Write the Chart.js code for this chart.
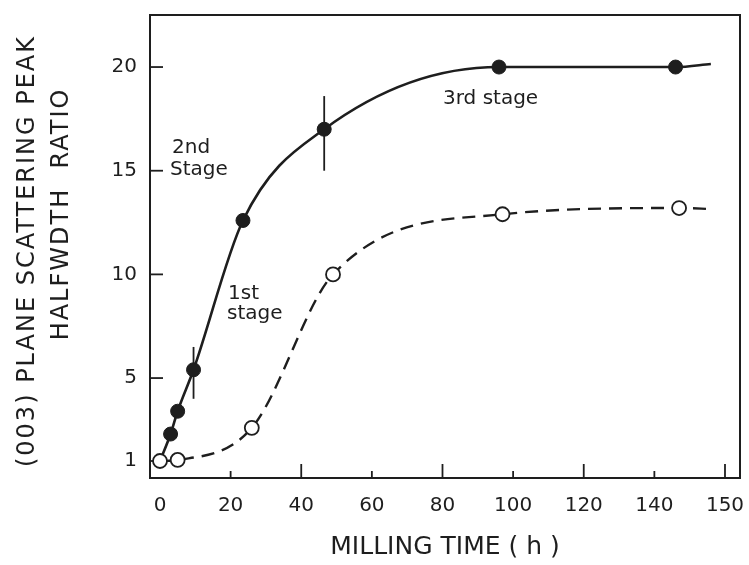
<!DOCTYPE html>
<html>
<head>
<meta charset="utf-8">
<title>(003) plane scattering peak halfwidth ratio vs milling time</title>
<script src="https://cdn.jsdelivr.net/npm/chart.js@4.4.1/dist/chart.umd.min.js"></script>
<style>
  html, body { margin: 0; padding: 0; background: #fff; }
  #wrap { width: 749px; height: 565px; }
</style>
</head>
<body>
<div id="wrap"><canvas id="chart" width="749" height="565"></canvas></div>
<script>
// values: milling time (h) / halfwidth ratio
var hoursFilled = [0, 3, 5, 9.5, 23.5, 46.5, 96, 146, 156];
var ratioFilled = [1, 2.3, 3.4, 5.4, 12.6, 17.0, 20.0, 20.0, 20.15];
var hoursOpen = [0, 5, 26, 49, 97, 147, 156.5];
var ratioOpen = [1, 1.05, 2.6, 10.0, 12.9, 13.2, 13.15];

// vertical bars on the filled series (null = no bar)
var errLow  = [null, null, null, 4.0, null, 15.0, null, null, null];
var errHigh = [null, null, null, 6.5, null, 18.6, null, null, null];

var xTicks = [0, 20, 40, 60, 80, 100, 120, 140, 160];
var xTickLabels = ['0', '20', '40', '60', '80', '100', '120', '140', '150'];
var yTicks = [1, 5, 10, 15, 20];

var xTitle = 'MILLING TIME ( h )';
var yTitle = ['(003) PLANE SCATTERING PEAK', 'HALFWDTH  RATIO'];
var stageText = ['2nd', 'Stage', '1st', 'stage', '3rd stage'];

var INK = '#1e1e1e';
var FONT = '"DejaVu Sans", sans-serif';

function toXY(xs, ys) {
  return xs.map(function (x, i) { return { x: x, y: ys[i] }; });
}

// no marker on the tail end of each curve
function radii(arr, r) {
  return arr.map(function (v, i) { return (i === arr.length - 1) ? 0 : r; });
}
var filledRadius = radii(ratioFilled, 7);
filledRadius[0] = 0;

var figurePlugin = {
  id: 'figure',
  beforeDatasetsDraw: function (chart) {
    var ctx = chart.ctx, a = chart.chartArea;
    var xs = chart.scales.x, ys = chart.scales.y;
    ctx.save();
    ctx.strokeStyle = INK;
    ctx.lineWidth = 2;
    ctx.strokeRect(a.left, a.top, a.right - a.left, a.bottom - a.top);

    // inward tick marks
    ctx.lineWidth = 1.8;
    yTicks.forEach(function (v) {
      var py = ys.getPixelForValue(v);
      ctx.beginPath();
      ctx.moveTo(a.left, py);
      ctx.lineTo(a.left + 13, py);
      ctx.stroke();
    });
    xTicks.forEach(function (v, i) {
      if (v === 0) return;
      var px = xs.getPixelForValue(v);
      var len = (i % 2 === 0) ? 14 : 7;
      ctx.beginPath();
      ctx.moveTo(px, a.bottom);
      ctx.lineTo(px, a.bottom - len);
      ctx.stroke();
    });

    // vertical bars through the filled points
    hoursFilled.forEach(function (h, i) {
      if (errLow[i] === null) return;
      var px = xs.getPixelForValue(h);
      ctx.beginPath();
      ctx.moveTo(px, ys.getPixelForValue(errLow[i]));
      ctx.lineTo(px, ys.getPixelForValue(errHigh[i]));
      ctx.stroke();
    });
    ctx.restore();
  },
  afterDraw: function (chart) {
    var ctx = chart.ctx;
    ctx.save();
    ctx.fillStyle = INK;

    // y axis title, two rotated lines
    ctx.font = '24px ' + FONT;
    if ('letterSpacing' in ctx) ctx.letterSpacing = '2px';
    ctx.textAlign = 'center';
    ctx.textBaseline = 'middle';
    ctx.save();
    ctx.translate(28, 251);
    ctx.rotate(-Math.PI / 2);
    ctx.fillText(yTitle[0], 0, 0);
    ctx.restore();
    ctx.save();
    ctx.translate(62, 214);
    ctx.rotate(-Math.PI / 2);
    ctx.fillText(yTitle[1], 0, 0);
    ctx.restore();
    if ('letterSpacing' in ctx) ctx.letterSpacing = '0px';

    // stage notes
    ctx.font = '20px ' + FONT;
    ctx.textAlign = 'left';
    ctx.fillText(stageText[0], 172, 148);
    ctx.fillText(stageText[1], 170, 170);
    ctx.fillText(stageText[2], 228, 294);
    ctx.fillText(stageText[3], 227, 314);
    ctx.fillText(stageText[4], 443, 99);
    ctx.restore();
  }
};

var ctx = document.getElementById('chart');
var chart = new Chart(ctx, {
  type: 'line',
  data: {
    datasets: [{
      label: 'open',
      data: toXY(hoursOpen, ratioOpen),
      borderColor: INK,
      borderWidth: 2.4,
      borderDash: [13, 8],
      cubicInterpolationMode: 'monotone',
      pointRadius: radii(ratioOpen, 7),
      pointBackgroundColor: '#fff',
      pointBorderColor: INK,
      pointBorderWidth: 1.8,
      fill: false
    }, {
      label: 'filled',
      data: toXY(hoursFilled, ratioFilled),
      borderColor: INK,
      borderWidth: 2.6,
      cubicInterpolationMode: 'monotone',
      pointRadius: filledRadius,
      pointBackgroundColor: INK,
      pointBorderColor: INK,
      pointBorderWidth: 1,
      fill: false
    }]
  },
  options: {
    responsive: false,
    animation: false,
    layout: { padding: { left: 0, top: 15, right: 9, bottom: 0 } },
    plugins: {
      legend: { display: false },
      tooltip: { enabled: false }
    },
    scales: {
      x: {
        type: 'linear',
        min: -2.83,
        max: 164.25,
        afterBuildTicks: function (s) {
          s.ticks = xTicks.map(function (v) { return { value: v }; });
        },
        afterFit: function (s) {
          s.height = 87;
          s.paddingLeft = 0;
          s.paddingRight = 0;
        },
        grid: { display: false, drawTicks: false },
        border: { display: false },
        ticks: {
          color: INK,
          padding: 16,
          maxRotation: 0,
          autoSkip: false,
          font: { family: FONT, size: 20 },
          callback: function (v, i) { return xTickLabels[i]; }
        },
        title: {
          display: true,
          text: xTitle,
          color: INK,
          padding: { top: 0, bottom: 3 },
          font: { family: FONT, size: 25 }
        }
      },
      y: {
        type: 'linear',
        min: 0.18,
        max: 22.51,
        afterBuildTicks: function (s) {
          s.ticks = yTicks.map(function (v) { return { value: v }; });
        },
        afterFit: function (s) {
          s.width = 150;
          s.paddingTop = 0;
          s.paddingBottom = 0;
        },
        grid: { display: false, drawTicks: false },
        border: { display: false },
        ticks: {
          color: INK,
          padding: 13,
          autoSkip: false,
          font: { family: FONT, size: 20 }
        }
      }
    }
  },
  plugins: [figurePlugin]
});
</script>
</body>
</html>
